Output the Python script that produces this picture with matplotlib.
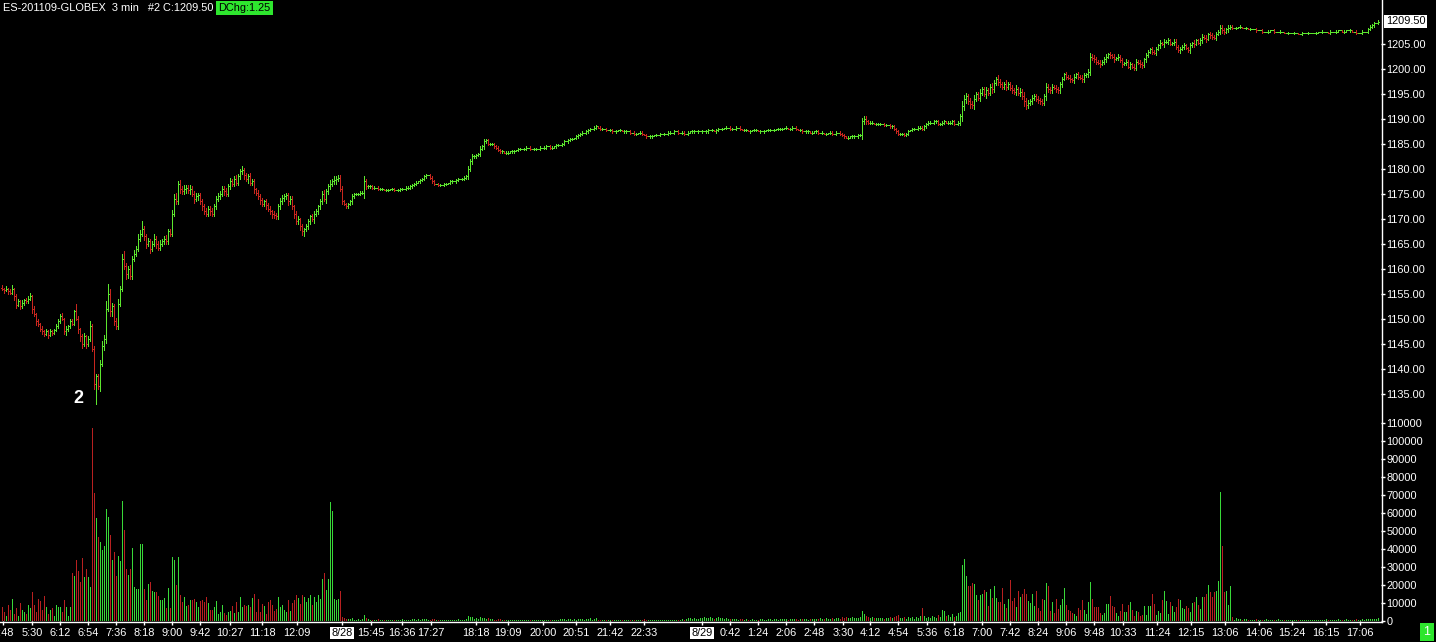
import numpy as np
import matplotlib
matplotlib.use("Agg")
import matplotlib.pyplot as plt
from matplotlib.lines import Line2D
from matplotlib.transforms import blended_transform_factory

plt.rcParams["font.family"] = ["Liberation Sans", "DejaVu Sans"]

W, H = 1436, 642
FS = 7.9

# closing prices of the 3 min bars, one list per session
close_fri = [
    1156, 1155.75, 1156, 1155.5, 1155.25, 1156, 1154.5, 1152.75, 1153.5, 1152.5,
    1153.25, 1153.75, 1153.5, 1154, 1154.5, 1152, 1151, 1149.5, 1149, 1148,
    1147.5, 1147, 1147.5, 1146.75, 1147.5, 1147.25, 1147.75, 1148.5, 1149.5, 1150.5,
    1150, 1147.5, 1148, 1148.5, 1149.5, 1149, 1151.5, 1150, 1148, 1146.5,
    1145, 1146.5, 1145, 1146, 1148.5, 1144, 1137, 1138.5, 1136.5, 1141,
    1144.5, 1146, 1152, 1155, 1151.5, 1152.5, 1149.5, 1148.5, 1153, 1156,
    1162, 1160.5, 1159, 1160, 1158.5, 1162, 1163, 1164, 1166, 1167,
    1168, 1166.5, 1165, 1165.5, 1164, 1165, 1166, 1165, 1164.25, 1165,
    1165.5, 1166, 1165.5, 1167.5, 1167, 1171, 1174, 1173.5, 1177, 1176,
    1175.5, 1176, 1176.25, 1175.75, 1176, 1175, 1174, 1174.5, 1174.75, 1173.5,
    1172.5, 1171.5, 1171, 1172, 1171.5, 1171, 1172.5, 1174, 1174.5, 1175,
    1176, 1175.5, 1175, 1176.5, 1177.5, 1177, 1178, 1177.25, 1178.5, 1179.5,
    1179.75, 1178.75, 1178, 1178.5, 1177.25, 1177.5, 1176, 1175.25, 1174.5, 1173.75,
    1173, 1173.5, 1172.75, 1172, 1171.5, 1171, 1170.75, 1170.5, 1172.5, 1173.5,
    1174.25, 1174.5, 1174.75, 1173.5, 1174, 1172.5, 1171, 1169.5, 1170, 1168.5,
    1167.5, 1168, 1168.5, 1169.5, 1170.5, 1170, 1171, 1171.5, 1172.5, 1173.5,
    1175, 1174, 1175.5, 1176.5, 1177, 1177.5, 1177.75, 1178, 1178.25, 1176,
]
close_sun = [
    1173.5, 1173, 1172.5, 1173, 1173.5, 1174.5, 1175, 1175, 1175, 1175.25,
    1175.25, 1177.5, 1176.5, 1176.5, 1176.5, 1176.25, 1176.25, 1176.25, 1176, 1176,
    1176, 1175.75, 1175.75, 1175.75, 1176, 1176, 1175.75, 1175.75, 1175.75, 1176,
    1176, 1176, 1176.25, 1176.25, 1176.5, 1176.75, 1177, 1177.25, 1177.5, 1177.75,
    1178, 1178.5, 1178.75, 1178.75, 1178.25, 1177.5, 1177, 1177, 1176.75, 1176.75,
    1176.75, 1177, 1177, 1177.25, 1177.5, 1177.5, 1177.5, 1177.75, 1178, 1178,
    1178, 1178.25, 1178.5, 1180, 1181.5, 1182.5, 1182.5, 1182.75, 1183, 1184,
    1184.5, 1185.5, 1185.75, 1185, 1185, 1185, 1184.5, 1184.25, 1183.75, 1183.5,
    1183.5, 1183.25, 1183.25, 1183.25, 1183.5, 1183.5, 1183.5, 1183.75, 1184, 1184,
    1184, 1184, 1184.25, 1184.25, 1184, 1184, 1184, 1184, 1184, 1184.25,
    1184.25, 1184.25, 1184.5, 1184.5, 1184.25, 1184.25, 1184.5, 1184.75, 1184.75, 1184.75,
    1185, 1185.5, 1185.5, 1185.75, 1186, 1186, 1186.25, 1186.5, 1186.75, 1187,
    1187.25, 1187.25, 1187.5, 1187.75, 1188, 1188, 1188.25, 1188.5, 1188.25, 1188,
    1188, 1188, 1187.75, 1187.75, 1187.75, 1187.5, 1187.5, 1187.5, 1187.75, 1187.75,
    1187.5, 1187.5, 1187.5, 1187.5, 1187.25, 1187.25, 1187, 1187, 1187.25, 1187.25,
    1187, 1186.75, 1186.5, 1186.5, 1186.5, 1186.5, 1186.75, 1186.75, 1186.75, 1187,
    1187, 1187, 1187, 1187.25, 1187.25, 1187.25, 1187.5, 1187.5, 1187.25, 1187.25,
    1187.25, 1187, 1187, 1187.25, 1187.5, 1187.5, 1187.5, 1187.5, 1187.5, 1187.5,
]
close_night = [
    1187.5, 1187.5, 1187.5, 1187.75, 1187.75, 1187.75, 1187.5, 1187.75, 1188, 1188,
    1188, 1188.25, 1188.25, 1188.25, 1188, 1188, 1188, 1188.25, 1188.25, 1188,
    1187.75, 1187.75, 1187.75, 1187.5, 1187.5, 1187.75, 1187.75, 1187.75, 1187.5, 1187.5,
    1187.5, 1187.5, 1187.75, 1187.75, 1187.75, 1187.75, 1187.75, 1188, 1188, 1188,
    1188, 1188.25, 1188.25, 1188, 1188, 1188.25, 1188.25, 1188, 1187.75, 1187.75,
    1187.5, 1187.5, 1187.5, 1187.5, 1187.25, 1187.25, 1187.5, 1187.5, 1187.25, 1187.25,
    1187.25, 1187, 1187, 1187.25, 1187.25, 1187, 1187, 1187.25, 1187.25, 1187,
    1186.75, 1186.5, 1186.25, 1186.25, 1186.5, 1186.5, 1186.5, 1186.5, 1186.75, 1186.75,
    1189.5, 1190, 1189.5, 1189.25, 1189.25, 1189.25, 1189, 1189, 1189, 1189,
    1189, 1188.75, 1188.75, 1188.75, 1188.5, 1188.5, 1188, 1187.5, 1187, 1187,
    1187, 1186.75, 1187, 1187.5, 1187.75, 1188, 1188, 1188, 1188.25, 1188.25,
    1188, 1188.5, 1189, 1189.25, 1189.25, 1189.25, 1189.5, 1189.5, 1189, 1189,
    1189.25, 1189.5, 1189.25, 1189.25, 1189.25, 1189.5, 1189, 1189, 1189.25, 1190.5,
]
close_day = [
    1192.5, 1194, 1194.5, 1193.5, 1193, 1192.75, 1194, 1195, 1194.25, 1195.25,
    1196, 1195, 1195.75, 1195.25, 1196.5, 1196, 1197.25, 1198, 1197.5, 1197,
    1196.5, 1197, 1196.5, 1197, 1196.25, 1195.75, 1195.5, 1196, 1195.25, 1195.5,
    1194.5, 1193.5, 1192.75, 1193.25, 1193.5, 1194.25, 1194.5, 1194, 1193.75, 1193.5,
    1193.25, 1194.5, 1196.5, 1196, 1195.75, 1196.5, 1196.25, 1196, 1195.75, 1197,
    1198, 1199, 1198.5, 1198.25, 1198, 1197.75, 1198.5, 1199, 1198.5, 1198.25,
    1198, 1198.75, 1199, 1199.5, 1202.5, 1202.25, 1202, 1201.5, 1201.25, 1201,
    1201.5, 1202, 1202.5, 1203, 1202.75, 1202.5, 1202, 1202.25, 1202.5, 1201.75,
    1201, 1201.25, 1201.5, 1200.5, 1201, 1200.5, 1200.25, 1201.5, 1201.25, 1201,
    1200.75, 1202, 1202.75, 1203.5, 1204, 1203.5, 1203.25, 1204, 1204.75, 1205.25,
    1205, 1205.5, 1205.5, 1205.75, 1205, 1205.25, 1205.5, 1204.5, 1203.75, 1204,
    1204.5, 1204.75, 1204.25, 1203.75, 1204.75, 1205.25, 1205, 1205.75, 1205.25, 1205.75,
    1206.5, 1206.25, 1206, 1207, 1206.75, 1206.5, 1206.25, 1207, 1207.5, 1208.25,
    1207.75, 1207.5, 1208, 1208.25, 1208.5,
]
close_post = [
    1208.25, 1208.25, 1208.25, 1208.5, 1208.5, 1208.25, 1208.25, 1208.25, 1208, 1208,
    1208, 1208, 1207.75, 1207.75, 1207.75, 1207.5, 1207.5, 1207.5, 1207.5, 1207.75,
    1207.75, 1207.5, 1207.5, 1207.5, 1207.5, 1207.5, 1207.25, 1207.25, 1207.25, 1207.25,
    1207.25, 1207.25, 1207.25, 1207, 1207, 1207.25, 1207.25, 1207.25, 1207.25, 1207.25,
    1207.25, 1207.25, 1207.25, 1207.5, 1207.5, 1207.5, 1207.5, 1207.5, 1207.25, 1207.5,
    1207.5, 1207.5, 1207.5, 1207.75, 1207.75, 1207.5, 1207.5, 1207.75, 1207.75, 1207.75,
    1207.5, 1207.5, 1207.25, 1207.25, 1207.25, 1207.5, 1207.5, 1207.5, 1208, 1208.5,
    1208.75, 1209.25, 1209.25, 1209.5,
]
first_open = 1156.25

# high / low beyond the bar body, in ticks (0.25)
up_fri = [
    2, 1, 2, 1, 2, 3, 1, 2, 2, 1, 2, 1, 2, 2, 3, 1, 2, 1, 2, 1,
    2, 1, 2, 1, 2, 1, 1, 2, 2, 2, 3, 1, 2, 1, 2, 2, 1, 6, 2, 1,
    2, 3, 1, 2, 4, 2, 2, 2, 2, 3, 4, 3, 6, 8, 4, 3, 2, 3, 4, 2,
    4, 6, 3, 2, 3, 2, 3, 2, 4, 3, 6, 2, 2, 3, 2, 2, 4, 2, 2, 3,
    2, 2, 3, 2, 2, 3, 4, 5, 2, 3, 2, 3, 2, 2, 3, 2, 2, 3, 2, 2,
    2, 2, 3, 2, 2, 3, 2, 2, 3, 2, 2, 2, 3, 2, 3, 2, 2, 3, 2, 2,
    3, 2, 2, 2, 3, 2, 2, 1, 2, 2, 2, 1, 2, 2, 2, 1, 2, 2, 2, 3,
    2, 2, 2, 2, 2, 2, 1, 2, 2, 1, 2, 1, 2, 2, 1, 2, 2, 2, 1, 2,
    2, 3, 2, 2, 3, 2, 3, 2, 2, 2,
]
dn_fri = [
    1, 2, 1, 2, 1, 1, 3, 2, 1, 2, 1, 2, 1, 1, 1, 3, 2, 3, 2, 2,
    2, 2, 1, 2, 1, 2, 1, 1, 1, 1, 1, 2, 3, 2, 1, 1, 1, 1, 3, 4,
    3, 2, 3, 2, 2, 2, 4, 16, 2, 4, 2, 3, 3, 2, 4, 4, 3, 2, 2, 2,
    2, 2, 4, 3, 2, 2, 2, 2, 2, 2, 2, 3, 3, 2, 3, 2, 2, 3, 2, 2,
    2, 2, 2, 2, 2, 2, 2, 2, 2, 3, 2, 2, 3, 2, 3, 2, 3, 2, 3, 2,
    3, 2, 2, 2, 3, 2, 2, 2, 2, 2, 2, 3, 2, 2, 2, 2, 2, 2, 2, 2,
    2, 3, 2, 3, 2, 2, 3, 2, 2, 3, 2, 2, 3, 2, 2, 3, 2, 2, 2, 2,
    2, 3, 2, 3, 2, 2, 3, 2, 2, 3, 3, 4, 2, 2, 2, 2, 3, 2, 2, 2,
    2, 2, 3, 2, 2, 2, 2, 3, 2, 2,
]
wick_sun = [
    2, 1, 1, 1, 1, 2, 1, 1, 1, 1, 1, 4, 2, 1, 1, 1, 1, 0, 1, 1,
    1, 0, 1, 1, 0, 1, 1, 0, 1, 1, 1, 0, 1, 1, 1, 1, 1, 1, 0, 1,
    1, 1, 1, 0, 1, 1, 1, 0, 1, 1, 0, 1, 1, 0, 1, 1, 0, 1, 1, 0,
    1, 1, 1, 2, 2, 2, 1, 1, 1, 2, 1, 2, 1, 1, 1, 1, 1, 1, 1, 1,
    1, 0, 1, 1, 0, 1, 1, 0, 1, 1, 0, 1, 1, 0, 1, 0, 1, 1, 0, 1,
    0, 1, 1, 0, 1, 1, 0, 1, 1, 0, 1, 1, 0, 1, 1, 1, 0, 1, 1, 1,
    1, 0, 1, 1, 1, 0, 1, 1, 0, 1, 1, 0, 1, 0, 1, 1, 0, 1, 0, 1,
    0, 1, 1, 0, 1, 0, 1, 1, 0, 1, 1, 0, 1, 0, 1, 1, 0, 1, 0, 1,
    0, 1, 0, 1, 1, 0, 1, 0, 1, 0, 1, 1, 0, 1, 0, 1, 1, 0, 1, 0,
]
wick_night = [
    1, 0, 1, 1, 0, 1, 0, 1, 1, 0, 1, 0, 1, 0, 1, 1, 0, 1, 0, 1,
    0, 1, 1, 0, 1, 0, 1, 1, 0, 1, 0, 1, 0, 1, 1, 0, 1, 0, 1, 1,
    1, 0, 1, 0, 1, 1, 0, 1, 0, 1, 1, 0, 1, 1, 0, 1, 0, 1, 1, 0,
    1, 0, 1, 0, 1, 1, 0, 1, 0, 1, 1, 1, 0, 1, 0, 1, 1, 0, 1, 1,
    3, 2, 2, 1, 1, 1, 0, 1, 1, 1, 0, 1, 1, 0, 1, 1, 1, 1, 1, 1,
    1, 1, 1, 1, 0, 1, 1, 0, 1, 1, 1, 1, 1, 1, 1, 0, 1, 1, 1, 1,
    1, 1, 0, 1, 1, 1, 1, 0, 1, 2,
]
wick_day = [
    4, 3, 3, 2, 3, 2, 3, 2, 2, 3, 2, 2, 3, 2, 2, 3, 2, 2, 3, 2,
    2, 2, 3, 2, 2, 2, 2, 3, 2, 3, 2, 4, 3, 2, 2, 2, 2, 2, 2, 2,
    2, 2, 3, 2, 2, 2, 1, 2, 2, 2, 2, 1, 2, 1, 2, 1, 2, 1, 2, 1,
    2, 2, 1, 2, 3, 2, 2, 2, 1, 2, 1, 2, 2, 1, 2, 1, 2, 1, 2, 1,
    2, 1, 2, 1, 2, 1, 2, 2, 1, 2, 2, 1, 2, 1, 1, 2, 1, 2, 1, 2,
    1, 2, 1, 2, 1, 1, 2, 2, 1, 2, 1, 2, 1, 1, 2, 1, 2, 1, 1, 2,
    2, 1, 2, 1, 2, 2, 1, 2, 1, 2, 2, 2, 1, 2, 1,
]
wick_post = [
    1, 0, 1, 0, 1, 0, 0, 1, 0, 1, 0, 0, 1, 0, 0, 1, 0, 0, 1, 0,
    0, 1, 0, 0, 1, 0, 0, 0, 1, 0, 0, 1, 0, 0, 0, 1, 0, 0, 1, 0,
    0, 0, 1, 0, 0, 1, 0, 0, 0, 1, 0, 0, 1, 0, 0, 0, 1, 0, 0, 1,
    0, 0, 1, 0, 0, 1, 0, 0, 1, 1, 1, 1, 0, 1,
]

# volume per bar, thousands of contracts
vol_fri = [
    8, 5, 3, 9, 6, 12, 4, 7, 3, 10, 6, 5, 4, 9, 7, 16, 9, 5, 12, 11,
    6, 14, 8, 4, 6, 7, 3, 9, 8, 7.9, 5, 11.7, 7.8, 3, 7.8, 26.7, 25, 33.9, 27.8, 21.7,
    35, 24.4, 28.9, 24.4, 18.9, 107, 71, 57, 46.7, 43.9, 39.4, 41.7, 62, 58, 47.8, 33.9, 38.3, 25, 36, 33.3,
    66.7, 50.6, 28.9, 25.6, 28.9, 40.6, 18.9, 18, 18, 43, 43, 18, 11.7, 20.6, 21.7, 16.7, 16.1, 16.1, 13.9, 11.7,
    11.7, 12.8, 7.5, 18.3, 7.5, 35.7, 33.9, 20, 35.7, 14.4, 10.7, 13.3, 8.3, 8.9, 11.7, 11.7, 12.2, 10.7, 7.8, 11.3,
    11.7, 10.7, 13.3, 10.2, 6.1, 6.1, 7.8, 11.1, 3.9, 5, 8.9, 4.4, 3.3, 5, 5.6, 8.3, 4.4, 10.7, 5, 13.3,
    7.8, 8.9, 8.5, 8.9, 7.6, 12.8, 14.8, 5.2, 12.4, 5, 9.3, 8.3, 3.9, 10.7, 11.7, 8.9, 5.6, 6.7, 13.5, 7.6,
    8.9, 6.1, 5, 11.7, 5.4, 10.2, 11.7, 14.4, 12.6, 9.6, 14.4, 13.3, 10.7, 12.6, 14.4, 8.9, 13.3, 10.7, 14.4, 12,
    23.3, 26.7, 17.4, 23.3, 66.1, 61.3, 12, 11.7, 12.2, 16.5,
]
vol_sun = [
    2.5, 1.8, 1.2, 0.9, 1.1, 1.5, 0.8, 0.6, 0.9, 0.7, 1.0, 3.5, 1.8, 1.0, 0.8, 0.6, 0.7, 0.5, 0.9, 0.6,
    0.5, 0.7, 0.4, 0.6, 0.5, 0.8, 0.4, 0.5, 0.6, 0.7, 0.9, 0.5, 0.6, 0.8, 0.5, 1.0, 1.2, 0.8, 0.9, 0.7,
    1.1, 1.3, 0.9, 0.8, 0.7, 1.0, 0.9, 0.6, 0.8, 0.5, 0.6, 0.7, 0.5, 0.8, 0.6, 0.5, 0.7, 0.6, 0.9, 0.5,
    0.7, 0.8, 0.9, 2.8, 2.4, 2.0, 1.1, 1.4, 1.2, 2.2, 1.6, 1.9, 1.3, 1.5, 0.9, 1.1, 0.8, 0.7, 1.0, 0.9,
    0.6, 0.8, 0.7, 0.5, 0.6, 0.4, 0.7, 0.5, 0.6, 0.8, 0.4, 0.5, 0.7, 0.4, 0.6, 0.5, 0.3, 0.6, 0.5, 0.4,
    0.6, 0.5, 0.7, 0.4, 0.5, 0.6, 0.8, 0.7, 0.5, 0.9, 1.0, 1.3, 0.8, 1.1, 0.9, 0.7, 1.0, 0.8, 0.9, 1.2,
    1.0, 0.8, 1.1, 0.9, 1.4, 0.7, 1.2, 1.5, 0.8, 0.6, 0.7, 0.5, 0.6, 0.8, 0.5, 0.6, 0.4, 0.7, 0.5, 0.6,
    0.5, 0.7, 0.4, 0.6, 0.5, 0.7, 0.8, 0.5, 0.6, 0.4, 0.7, 0.9, 0.6, 0.5, 0.7, 0.6, 0.5, 0.8, 0.6, 0.7,
    0.5, 0.6, 0.4, 0.7, 0.5, 0.6, 0.8, 0.5, 0.7, 0.6, 0.9, 0.7, 1.1, 1.4, 1.8, 1.2, 1.5, 1.0, 1.3, 1.6,
]
vol_night = [
    1.8, 2.2, 1.5, 1.9, 2.4, 1.6, 1.3, 1.8, 2.0, 1.4, 1.7, 1.2, 1.5, 1.1, 1.3, 0.9, 1.2, 1.0, 0.8, 1.1,
    0.9, 0.7, 1.0, 0.8, 0.6, 0.9, 0.7, 0.8, 0.6, 0.9, 1.0, 0.7, 0.8, 1.1, 0.9, 0.7, 1.2, 1.0, 0.8, 1.1,
    1.2, 0.9, 1.0, 0.8, 1.1, 0.9, 1.3, 1.0, 0.8, 1.2, 1.0, 0.9, 1.1, 0.8, 1.2, 1.0, 0.9, 1.3, 1.1, 1.4,
    1.2, 1.0, 1.5, 1.3, 1.1, 1.6, 1.2, 1.4, 1.7, 1.3, 2.0, 1.6, 2.3, 1.8, 1.5, 2.1, 1.7, 1.4, 1.9, 2.2,
    5.5, 4.0, 2.8, 2.2, 1.8, 2.0, 1.5, 1.7, 1.4, 1.9, 1.6, 1.3, 1.8, 1.5, 2.1, 1.7, 2.4, 2.9, 3.1, 1.8,
    1.5, 2.3, 1.2, 2.0, 1.6, 2.5, 1.3, 2.1, 1.8, 2.6, 7.2, 3.0, 1.8, 2.4, 1.4, 2.8, 2.2, 1.6, 3.3, 2.5,
    6.1, 5.5, 2.7, 3.6, 2.1, 3.9, 2.4, 3.0, 4.2, 5.0,
]
vol_day = [
    31.1, 34.4, 25, 19.4, 19.4, 20.9, 20.6, 14.4, 11.7, 14.4,
    15, 17.2, 16.1, 8.3, 17.8, 12.6, 19.4, 12.6, 10.4, 10.4,
    18.3, 9.6, 7.2, 12.2, 22.8, 11, 12.6, 8, 16.5, 13.3,
    15, 17.8, 15, 11, 9.8, 15, 8.3, 16.5, 7.2, 5.7,
    12.2, 11.7, 21.1, 19.4, 5.7, 10.6, 4.4, 12.2, 6.7, 8.9,
    12.2, 18.3, 8.9, 6.1, 5.6, 4.4, 3.9, 3, 7.4, 6.1,
    11.7, 6.1, 3.9, 10.6, 21.7, 12.2, 8, 8, 7.6, 4.4,
    3.3, 4.4, 9.6, 9.6, 13.9, 8.3, 8, 4.4, 3, 5.7,
    9.6, 5.2, 5.2, 8.9, 10.6, 6.1, 3, 5.6, 5, 2.6,
    3.3, 8.3, 3.3, 8.3, 8.3, 15, 9.6, 3.3, 5.6, 4.4,
    11.7, 16.5, 11, 3.9, 10.6, 8.3, 5, 7.6, 12.2, 11.7,
    7.4, 6.7, 8.3, 7.2, 5, 9.8, 10.6, 13.1, 8.9, 6.7,
    13.3, 13.3, 15, 20, 16.1, 13.1, 16.1, 16.5, 22.2, 71.8,
    41.6, 15.9, 16.5, 8.9, 19.4,
]
vol_post = [
    2.2, 0.8, 1.5, 1.0, 1.2, 0.7, 1.3, 0.9, 0.6, 0.8, 0.5, 0.7, 0.9, 0.6, 0.8, 0.5, 0.6, 0.9, 0.7, 0.5,
    0.6, 0.4, 0.7, 0.9, 0.5, 0.6, 0.8, 0.5, 0.7, 0.4, 0.6, 0.5, 0.7, 0.6, 0.4, 0.5, 0.8, 0.6, 0.5, 0.7,
    0.4, 0.6, 0.5, 0.8, 0.6, 0.5, 0.7, 0.9, 0.6, 0.5, 0.7, 0.6, 0.8, 1.0, 0.7, 0.6, 0.8, 0.9, 0.7, 0.6,
    0.8, 0.7, 0.9, 0.6, 0.8, 1.0, 0.7, 0.9, 1.1, 1.3, 1.0, 1.2, 0.9, 1.4,
]

time_labels = [
    "4:48", "5:30", "6:12", "6:54", "7:36", "8:18", "9:00", "9:42", "10:27", "11:18", "12:09",
    "8/28", "15:45", "16:36", "17:27", "18:18", "19:09", "20:00", "20:51", "21:42", "22:33",
    "8/29", "0:42", "1:24", "2:06", "2:48", "3:30", "4:12", "4:54", "5:36", "6:18", "7:00",
    "7:42", "8:24", "9:06", "9:48", "10:33", "11:24", "12:15", "13:06", "14:06", "15:24",
    "16:15", "17:06",
]
# where each time label sits, in screen pixels of the reference
time_label_px = [
    3, 32, 60, 88, 116, 144, 172, 200, 230, 262, 297,
    342, 371, 402, 431, 476, 508, 543, 576, 610, 644,
    702, 730, 758, 786, 814, 843, 870, 898, 927, 954, 982,
    1010, 1038, 1066, 1094, 1123, 1157, 1191, 1225, 1259, 1292,
    1326, 1360,
]

price_ticks = list(range(1135, 1210, 5))
volume_ticks = list(range(0, 110001, 10000))

GREEN = "#5ce62e"
RED = "#c8261e"
VGREEN = "#38d838"
VRED = "#b82020"
BOX_GREEN = "#2ee62e"


def fx(px):
    return px / W


def fy(py):
    return 1 - py / H


closes = np.array(close_fri + close_sun + close_night + close_day + close_post)
opens = np.concatenate([[first_open], closes[:-1]])
up = np.array(up_fri + wick_sun + wick_night + wick_day + wick_post) * 0.25
dn = np.array(dn_fri + wick_sun + wick_night + wick_day + wick_post) * 0.25
vols = np.array(vol_fri + vol_sun + vol_night + vol_day + vol_post) * 1000

n = min(len(closes), len(up), len(dn), len(vols))
print("bars", len(closes), len(up), len(dn), len(vols))
closes, opens, up, dn, vols = closes[:n], opens[:n], up[:n], dn[:n], vols[:n]

highs = np.maximum(opens, closes) + up
lows = np.minimum(opens, closes) - dn
x = np.arange(n)
rising = closes >= opens
bar_colors = np.where(rising, GREEN, RED)
vol_colors = np.where(rising, VGREEN, VRED)

fig = plt.figure(figsize=(W / 100, H / 100), dpi=100, facecolor="black")

# panes: price from y=14 to y=410 px, volume from y=416 to y=621 px
plot_right = 1381
ax_p = fig.add_axes([0, fy(410), fx(plot_right), (410 - 14) / H], facecolor="black")
ax_v = fig.add_axes([0, fy(621), fx(plot_right), (621 - 416) / H], facecolor="black")

xlim = (-1, (plot_right - 2) / 2)
for ax in (ax_p, ax_v):
    ax.set_xlim(*xlim)
    for s in ax.spines.values():
        s.set_visible(False)

# price bars: high-low line with open tick left and close tick right
LW = 0.72
ax_p.vlines(x, lows, highs, colors=bar_colors, linewidth=LW, antialiased=False)
ax_p.hlines(opens, x - 0.5, x, colors=bar_colors, linewidth=LW, antialiased=False)
ax_p.hlines(closes, x, x + 0.5, colors=bar_colors, linewidth=LW, antialiased=False)

# price scale: 5 px per point, 1205 sits at y=44
ax_p.set_ylim(1205 - (410 - 44) / 5, 1205 + (44 - 14) / 5)
ax_p.yaxis.tick_right()
ax_p.set_yticks(price_ticks)
ax_p.set_yticklabels([f"{p:.2f}" for p in price_ticks])
ax_p.tick_params(axis="y", colors="white", labelcolor="white", length=3, width=1,
                 pad=1, labelsize=FS)
ax_p.set_xticks([])

# last price box
tr = blended_transform_factory(ax_p.transAxes, ax_p.transData)
ax_p.text(1 + 5 / plot_right, closes[-1], f"{closes[-1]:.2f}", transform=tr,
          ha="left", va="center", fontsize=FS, color="black", clip_on=False,
          bbox=dict(facecolor="white", edgecolor="none", pad=1.2))

# swing low marker
low_bar = int(np.argmin(lows))
ax_p.text(x[low_bar] - 9, lows[low_bar] + 1.1, "2", color="white", fontsize=13,
          fontweight="bold", ha="center", va="center")

# volume bars
ax_v.vlines(x, 0, vols, colors=vol_colors, linewidth=LW, antialiased=False)
ax_v.set_ylim(0, (621 - 416) / 18 * 10000)
ax_v.yaxis.tick_right()
ax_v.set_yticks(volume_ticks)
ax_v.set_yticklabels([str(v) for v in volume_ticks])
ax_v.tick_params(axis="y", colors="white", labelcolor="white", length=3, width=1,
                 pad=1, labelsize=FS)

# time axis
ax_v.set_xticks([(p - 2) / 2 for p in time_label_px])
ax_v.set_xticklabels(time_labels)
ax_v.tick_params(axis="x", colors="white", labelcolor="white", length=3, width=1,
                 pad=2, labelsize=FS)
for lbl in ax_v.get_xticklabels():
    if "/" in lbl.get_text():
        lbl.set_color("black")
        lbl.set_bbox(dict(facecolor="white", edgecolor="none", pad=0.8))

# axis frame lines
fig.add_artist(Line2D([fx(plot_right + 0.5)] * 2, [fy(0), fy(622)],
                      transform=fig.transFigure, color="white", linewidth=1))
fig.add_artist(Line2D([0, fx(plot_right + 0.5)], [fy(622), fy(622)],
                      transform=fig.transFigure, color="white", linewidth=1))

# header, the green change box follows the title text
title = fig.text(fx(3), fy(8), "ES-201109-GLOBEX  3 min   #2 C:1209.50", color="white",
                 fontsize=FS, ha="left", va="center")
fig.canvas.draw()
title_end = title.get_window_extent().x1
fig.text((title_end + 5) / W, fy(8), "DChg:1.25", color="black", fontsize=FS,
         ha="left", va="center",
         bbox=dict(facecolor=BOX_GREEN, edgecolor="none", pad=1.5))

# bottom right box
fig.text(fx(1427), fy(632), "1", color="white", fontsize=FS + 1, ha="center", va="center",
         bbox=dict(facecolor=BOX_GREEN, edgecolor="none", pad=2.5))

fig.savefig("out.png", dpi=100, facecolor="black")
